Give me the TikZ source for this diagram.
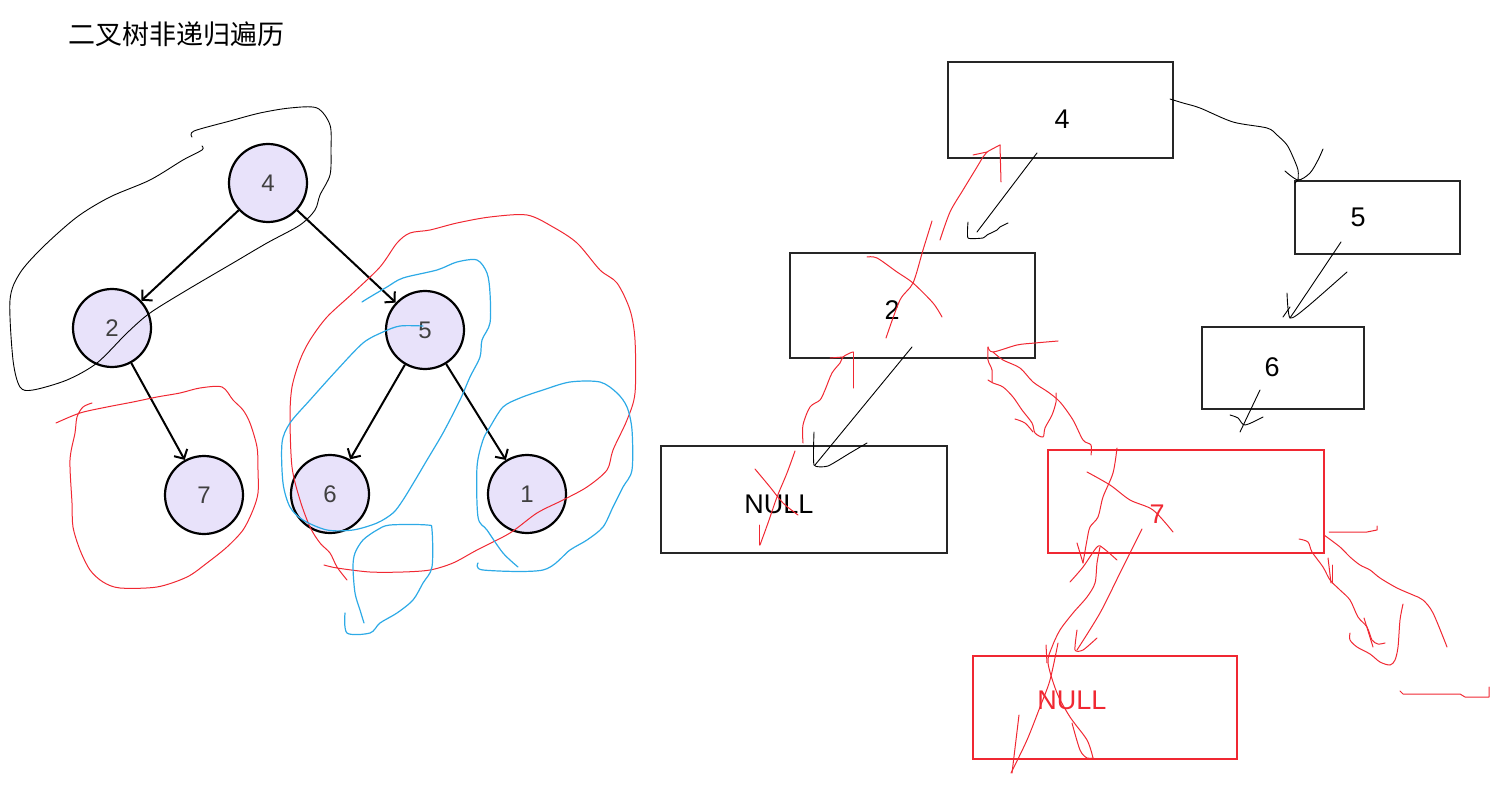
\documentclass[tikz,border=0pt]{standalone}
\usepackage{fontspec}
\setmainfont{Liberation Sans}
\newfontfamily\cjk{Noto Sans CJK SC}
\usetikzlibrary{arrows.meta}
\definecolor{lavender}{RGB}{232,226,250}
\definecolor{inkred}{RGB}{240,40,50}
\definecolor{inkblue}{RGB}{45,170,230}

\begin{document}
\begin{tikzpicture}[x=1pt,y=-1pt,
    tnode/.style={circle,draw,line width=2.2pt,fill=lavender,minimum size=78pt,
                  inner sep=0pt,font=\fontsize{24}{24}\selectfont,text=black!75},
    edge/.style={-{Straight Barb[length=7pt,width=15pt]},line width=2pt},
    box/.style={line width=1.2pt,draw=black!85},
    redbox/.style={line width=1.2pt,draw=inkred},
    lbl/.style={font=\fontsize{27}{27}\selectfont},
    blackink/.style={line width=0.9pt,line cap=round,line join=round},
    redink/.style={line width=1pt,draw=inkred,line cap=round,line join=round},
    blueink/.style={line width=1.2pt,draw=inkblue,line cap=round,line join=round}]
    \useasboundingbox (0,0) rectangle (1496,786);

    %title
    \node (title) at (176,34) {\cjk\fontsize{27}{27}\selectfont 二叉树非递归遍历};

    %tree
    \node[tnode] (n4) at (268,183) {4};
    \node[tnode] (n2) at (112,328) {2};
    \node[tnode] (n5) at (425,330) {5};
    \node[tnode] (n7) at (204,495) {7};
    \node[tnode] (n6) at (330,494) {6};
    \node[tnode] (n1) at (527,494) {1};
    \draw[edge] (n4) -- (n2);
    \draw[edge] (n4) -- (n5);
    \draw[edge] (n2) -- (n7);
    \draw[edge] (n5) -- (n6);
    \draw[edge] (n5) -- (n1);

    %loops over the tree
    \draw[blackink] plot[smooth,tension=0.5] coordinates {(192,137) (194,131) (230,121)
      (260,113) (290,108) (317,108) (330,125) (331,150) (330,175) (320,195) (315,210)
      (300,225) (267,243) (233,263) (187,290) (150,313) (127,333) (97,363) (67,380)
      (33,390) (20,387) (13,360) (10,300) (20,273) (43,247) (77,217) (110,197) (150,180)
      (183,160) (202,150) (202,146)};
    \draw[redink] plot[smooth,tension=0.5] coordinates {(56,423) (80,413) (107,407)
      (133,402) (157,397) (180,393) (200,388) (222,387) (233,400) (243,410) (250,423)
      (257,447) (258,470) (258,493) (253,510) (243,530) (227,547) (207,563) (187,577)
      (157,587) (120,588) (103,582) (90,570) (80,550) (73,527) (72,503) (70,460) (75,433)
      (77,417) (83,407) (92,403)};
    \draw[redink] plot[smooth,tension=0.5] coordinates {(347,580) (337,567) (330,553)
      (320,543) (310,527) (300,500) (292,467) (290,417) (292,387) (300,360) (310,340)
      (327,317) (353,293) (380,267) (397,243) (410,233) (430,230) (457,223) (490,217)
      (527,215) (553,227) (577,243) (600,270) (617,283) (630,310) (635,340) (635,393)
      (627,420) (613,450) (607,470) (587,487) (563,500) (537,513) (510,533) (477,550)
      (453,563) (430,570) (403,572) (370,572) (337,568) (324,565)};
    \draw[blueink] plot[smooth,tension=0.5] coordinates {(362,302) (370,297) (387,287)
      (403,278) (437,270) (457,262) (477,260) (487,273) (490,293) (490,323) (482,340)
      (480,357) (470,377) (460,400) (443,433) (427,460) (417,477) (403,500) (393,513)
      (377,523) (353,530) (327,530) (303,520) (290,507) (283,483) (282,443) (290,423)
      (310,400) (337,370) (363,343) (383,332) (400,326) (423,326)};
    \draw[blueink] plot[smooth,tension=0.5] coordinates {(518,567) (503,553) (487,530)
      (478,517) (477,467) (483,440) (490,427) (503,407) (520,398) (543,390) (570,382)
      (600,382) (617,393) (627,407) (632,430) (632,470) (623,487) (613,507) (603,527)
      (587,540) (570,550) (543,570) (483,570) (478,563)};
    \draw[blueink] plot[smooth,tension=0.5] coordinates {(364,623) (360,610) (355,593)
      (353,567) (355,553) (363,540) (377,530) (390,525) (427,525) (432,530) (432,567)
      (423,583) (413,600) (397,613) (380,623) (370,633) (347,633) (345,613)};

    %boxes
    \draw[box] (948,62) rectangle (1173,158);
    \node[lbl] (b4) at (1062,119) {4};
    \draw[box] (1295,181) rectangle (1460,254);
    \node[lbl] (b5) at (1358,217) {5};
    \draw[box] (790,253) rectangle (1035,358);
    \node[lbl] (b2) at (892,310) {2};
    \draw[box] (1202,327) rectangle (1364,409);
    \node[lbl] (b6) at (1272,367) {6};
    \draw[box] (661,446) rectangle (947,553);
    \node[lbl] (bnull) at (779,504) {NULL};
    \draw[redbox] (1048,450) rectangle (1324,553);
    \node[lbl,text=inkred] (b7) at (1157,514) {7};
    \draw[redbox] (973,656) rectangle (1237,759);
    \node[lbl,text=inkred] (bnull2) at (1072,700) {NULL};

    %black strokes
    \draw[blackink] (1037,153) -- (977,232);
    \draw[blackink] plot[smooth,tension=0.3] coordinates {(968,222) (968,238) (983,238)
      (987,235) (997,230) (1000,227) (1008,223)};
    \draw[blackink] (912,347) -- (815,465);
    \draw[blackink] plot[smooth,tension=0.3] coordinates {(814,432) (814,465) (828,466)
      (850,453) (867,443)};
    \draw[blackink] plot[smooth,tension=0.5] coordinates {(1170,99) (1183,103) (1200,108)
      (1233,122) (1267,128) (1277,135) (1287,145) (1293,157) (1298,170) (1298,180)};
    \draw[blackink] plot[smooth,tension=0.5] coordinates {(1285,171) (1298,180) (1310,173)
      (1318,160) (1323,149)};
    \draw[blackink] (1295,183) -- (1298,180);
    \draw[blackink] (1341,242) -- (1290,318);
    \draw[blackink] plot[smooth,tension=0.4] coordinates {(1287,293) (1290,318) (1307,307)
      (1347,272)};
    \draw[blackink] (1283,317) -- (1290,307);
    \draw[blackink] (1260,390) -- (1240,432);
    \draw[blackink] plot[smooth,tension=0.5] coordinates {(1230,415) (1238,418) (1245,425)
      (1263,417)};

    %red strokes, upper part
    \draw[redink] plot[smooth,tension=0.5] coordinates {(886,338) (900,300) (913,283)
      (923,250) (932,221)};
    \draw[redink] plot[smooth,tension=0.5] coordinates {(940,240) (950,212) (963,190)
      (977,167) (983,157) (987,152) (1000,145)};
    \draw[redink] (973,155) -- (987,152);
    \draw[redink] (1000,145) -- (1001,182);
    \draw[redink] plot[smooth,tension=0.5] coordinates {(867,257) (877,258) (897,272)
      (913,283) (933,303) (942,317)};
    \draw[redink] plot[smooth,tension=0.5] coordinates {(803,443) (803,425) (810,407)
      (820,400) (825,390) (832,373) (840,363) (843,357) (850,353) (853,352)};
    \draw[redink] (853,352) -- (853,388);
    \draw[redink] (830,358) -- (843,357);
    \draw[redink] plot[smooth,tension=0.5] coordinates {(795,451) (787,473) (777,497)
      (768,523) (760,545)};
    \draw[redink] (759,525) -- (759,545);
    \draw[redink] plot[smooth,tension=0.5] coordinates {(755,469) (770,487) (783,503)
      (798,515)};
    \draw[redink] plot[smooth,tension=0.5] coordinates {(1058,341) (1035,343) (1017,345)
      (993,352) (988,347)};
    \draw[redink] plot[smooth,tension=0.5] coordinates {(988,347) (988,360) (992,370)
      (992,382)};
    \draw[redink] plot[smooth,tension=0.5] coordinates {(988,380) (993,383) (1003,387)
      (1013,397) (1022,410) (1032,423) (1035,433) (1043,437) (1045,428) (1052,415)
      (1056,402) (1056,393)};
    \draw[redink] plot[smooth,tension=0.5] coordinates {(1015,419) (1025,423) (1033,432)};
    \draw[redink] plot[smooth,tension=0.5] coordinates {(993,352) (1003,360) (1020,368)
      (1033,382) (1048,392) (1060,402) (1073,420) (1083,440) (1091,445) (1091,455)};

    %red strokes, lower part
    \draw[redink] plot[smooth,tension=0.5] coordinates {(1087,472) (1110,485) (1130,500)
      (1153,510) (1173,532)};
    \draw[redink] plot[smooth,tension=0.5] coordinates {(1117,448) (1113,473) (1103,497)
      (1098,517) (1090,527) (1087,540) (1083,563)};
    \draw[redink] (1077,543) -- (1083,563);
    \draw[redink] plot[smooth,tension=0.5] coordinates {(1070,582) (1083,567) (1097,547)
      (1103,548) (1117,560)};
    \draw[redink] plot[smooth,tension=0.5] coordinates {(1142,529) (1120,573) (1100,613)
      (1077,650)};
    \draw[redink] plot[smooth,tension=0.4] coordinates {(1077,630) (1075,650) (1083,650)
      (1097,638)};
    \draw[redink] plot[smooth,tension=0.5] coordinates {(1100,547) (1097,563) (1095,583)
      (1087,597) (1073,613) (1060,630) (1052,647) (1048,663) (1057,693) (1070,717)
      (1087,740) (1093,758)};
    \draw[redink] plot[smooth,tension=0.5] coordinates {(1058,643) (1050,680) (1040,707)
      (1027,740) (1011,773)};
    \draw[redink] (1046,645) -- (1047,663);
    \draw[redink] (1019,715) -- (1012,773);
    \draw[redink] plot[smooth,tension=0.5] coordinates {(1072,723) (1080,750) (1087,758)
      (1093,758)};

    %red strokes, right of 7
    \draw[redink] (1329,532) -- (1367,532) -- (1377,530) -- (1377,526);
    \draw[redink] (1323,533) -- (1323,543);
    \draw[redink] plot[smooth,tension=0.5] coordinates {(1324,535) (1340,547) (1350,557)
      (1360,565) (1370,570) (1380,578) (1397,588) (1413,595) (1423,600) (1433,613)
      (1447,647)};
    \draw[redink] plot[smooth,tension=0.5] coordinates {(1299,539) (1308,542) (1312,552)
      (1323,567) (1330,580) (1340,590) (1350,600) (1358,617) (1367,627) (1372,640)
      (1378,644) (1385,643)};
    \draw[redink] (1328,558) -- (1331,583);
    \draw[redink] (1332,565) -- (1332,583);
    \draw[redink] (1364,618) -- (1373,647);
    \draw[redink] plot[smooth,tension=0.5] coordinates {(1403,604) (1400,620) (1398,647)
      (1395,660) (1390,665) (1380,662) (1370,654) (1357,647) (1350,640) (1350,633)};
    \draw[redink] (1400,691) -- (1403,694) -- (1460,694) -- (1465,697) -- (1489,697)
      -- (1489,687);
\end{tikzpicture}
\end{document}
